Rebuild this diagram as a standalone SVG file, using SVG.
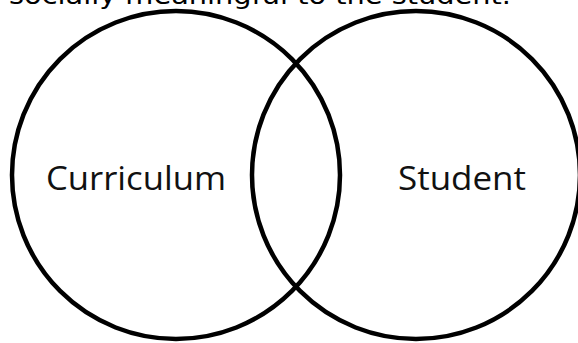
<svg xmlns="http://www.w3.org/2000/svg" width="578" height="343" viewBox="0 0 578 343">
<style>
.bg{fill:#ffffff}
.ring{fill:none;stroke:#000000;stroke-width:4.5}
.lbl{font-family:"Open Sans","Noto Sans","Liberation Sans",sans-serif;font-size:33px;fill:#111111}
.cap{font-family:"DejaVu Sans","Liberation Sans",sans-serif;font-size:24px;fill:#000000}
</style>
<rect class="bg" x="0" y="0" width="578" height="343"/>
<text class="cap" x="9" y="4" textLength="502" lengthAdjust="spacingAndGlyphs">socially meaningful to the student.</text>
<g id="curriculum">
<circle class="ring" cx="176" cy="175" r="164"/>
<text class="lbl" x="46" y="190" textLength="180" lengthAdjust="spacingAndGlyphs">Curriculum</text>
</g>
<g id="student">
<circle class="ring" cx="416" cy="175" r="164"/>
<text class="lbl" x="398" y="190" textLength="128" lengthAdjust="spacingAndGlyphs">Student</text>
</g>
<g id="connectors"></g>
</svg>
